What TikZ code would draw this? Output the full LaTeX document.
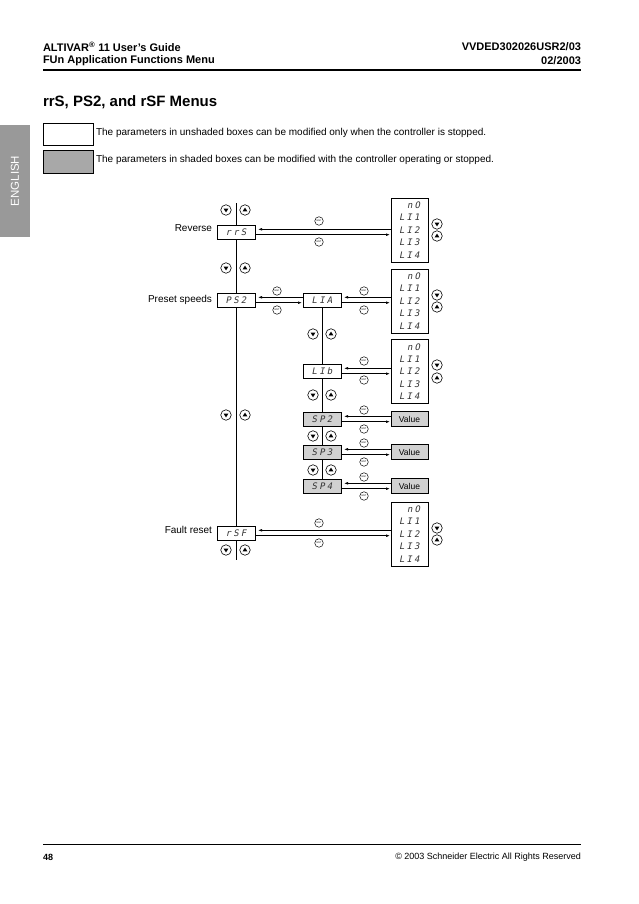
\documentclass[tikz,border=0pt]{standalone}
\usepackage{fontspec}
\setmainfont{Liberation Sans}
\newfontfamily\segfont[LetterSpace=24,FakeSlant=0.2]{DejaVu Sans Mono}
\usetikzlibrary{arrows.meta,calc}
\definecolor{shade}{gray}{0.82}
\definecolor{legshade}{gray}{0.66}
\definecolor{tabgray}{gray}{0.6}
\newcommand\rowarrows[2]{%
  \coordinate (#1-t) at ([yshift=2.7pt]#1.east);
  \coordinate (#1-b) at ([yshift=-2.7pt]#1.east);
  \draw[arr, shorten >=3pt] (#2.west |- #1-t) -- (#1-t);
  \draw[arr, shorten >=1pt] (#1-b) -- (#2.west |- #1-b);
}
\begin{document}
\begin{tikzpicture}[x=1pt,y=-1pt,
  every node/.style={inner sep=0pt, outer sep=0pt},
  pbox/.style={draw, line width=0.6pt, fill=white, minimum width=38pt, minimum height=14pt, font=\segfont\fontsize{9}{10}\selectfont, text=black!80},
  sbox/.style={pbox, fill=shade},
  lbox/.style={draw, line width=0.6pt, minimum width=37pt, minimum height=64pt, align=left, font=\segfont\fontsize{9}{12.4}\selectfont, text=black!80},
  vbox/.style={draw, line width=0.6pt, fill=shade, minimum width=37pt, minimum height=15pt, font=\fontsize{8.5}{9}\selectfont},
  nav/.style={circle, draw, line width=0.6pt, fill=white, minimum size=10.5pt},
  dnbtn/.style={nav, path picture={\fill[black] ([xshift=-2.4pt,yshift=1.4pt]path picture bounding box.center) -- ++(4.8pt,0pt) -- ++(-2.4pt,-3.8pt) -- cycle;}},
  upbtn/.style={nav, path picture={\fill[black] ([xshift=-2.4pt,yshift=-1.4pt]path picture bounding box.center) -- ++(4.8pt,0pt) -- ++(-2.4pt,3.8pt) -- cycle;}},
  keybtn/.style={circle, draw, line width=0.5pt, fill=white, minimum size=8.5pt, font=\fontsize{2.4}{2.5}\selectfont},
  arr/.style={line width=0.6pt, -{Latex[length=4pt,width=2.6pt]}},
  lbl/.style={anchor=east, font=\fontsize{10}{12}\selectfont},
  hdr/.style={font=\bfseries\fontsize{11}{13}\selectfont},
  legtext/.style={anchor=west, font=\fontsize{10}{12}\selectfont},
]
\useasboundingbox (0,0) rectangle (638,904);
\fill[white] (0,0) rectangle (638,904);

% header
\node[hdr, anchor=west] (h1) at (43,47) {ALTIVAR\textsuperscript{\textregistered} 11 User's Guide};
\node[hdr, anchor=west] (h2) at (43,61) {FUn Application Functions Menu};
\node[hdr, anchor=east] (h3) at (581,47) {VVDED302026USR2/03};
\node[hdr, anchor=east] (h4) at (581,61) {02/2003};
\draw[line width=1.2pt] (43,70) -- (581,70);
\node[anchor=west, font=\bfseries\fontsize{15}{17}\selectfont] (title) at (43,102) {rrS, PS2, and rSF Menus};

% side tab
\fill[tabgray] (0,125) rectangle (30,237);
\node[rotate=90, text=white, font=\fontsize{11.5}{12}\selectfont] (eng) at (15,181) {ENGLISH};

% legend
\node[draw, line width=0.6pt, fill=white, minimum width=50pt, minimum height=22pt] (leg1) at (68,134) {};
\node[draw, line width=0.6pt, fill=legshade, minimum width=50pt, minimum height=23pt] (leg2) at (68,161.5) {};
\node[legtext] (lt1) at (96,133) {The parameters in unshaded boxes can be modified only when the controller is stopped.};
\node[legtext] (lt2) at (96,160) {The parameters in shaded boxes can be modified with the controller operating or stopped.};

% parameter boxes
\node[pbox] (rrs) at (236,232) {rrS};
\node[pbox] (ps2) at (236,300) {PS2};
\node[pbox] (rsf) at (236,533) {rSF};
\node[pbox] (lia) at (322,300) {LIA};
\node[pbox] (lib) at (322,371) {LIb};
\node[sbox] (sp2) at (322,419) {SP2};
\node[sbox] (sp3) at (322,452) {SP3};
\node[sbox] (sp4) at (322,486) {SP4};

% labels
\node[lbl] (lrev) at (212,228) {Reverse};
\node[lbl] (lpre) at (212,300) {Preset speeds};
\node[lbl] (lfau) at (212,530) {Fault reset};

% lists
\node[lbox] (lst1) at (409.5,230) {\hspace*{8pt}nO\\LI1\\LI2\\LI3\\LI4};
\node[lbox] (lst2) at (409.5,301) {\hspace*{8pt}nO\\LI1\\LI2\\LI3\\LI4};
\node[lbox] (lst3) at (409.5,371.5) {\hspace*{8pt}nO\\LI1\\LI2\\LI3\\LI4};
\node[lbox] (lst4) at (409.5,534) {\hspace*{8pt}nO\\LI1\\LI2\\LI3\\LI4};
\node[vbox] (val2) at (409.5,419) {Value};
\node[vbox] (val3) at (409.5,452) {Value};
\node[vbox] (val4) at (409.5,486) {Value};

% vertical lines
\coordinate (mtop) at (236,203);
\coordinate (mbot) at (236,560);
\draw[line width=0.6pt] (mtop) -- (rrs.north);
\draw[line width=0.6pt] (rrs.south) -- (ps2.north);
\draw[line width=0.6pt] (ps2.south) -- (rsf.north);
\draw[line width=0.6pt] (rsf.south) -- (mbot);
\draw[line width=0.6pt] (lia.south) -- (lib.north);
\draw[line width=0.6pt] (lib.south) -- (sp2.north);
\draw[line width=0.6pt] (sp2.south) -- (sp3.north);
\draw[line width=0.6pt] (sp3.south) -- (sp4.north);

% horizontal arrows
\rowarrows{rrs}{lst1}
\rowarrows{ps2}{lia}
\rowarrows{lia}{lst2}
\rowarrows{lib}{lst3}
\rowarrows{sp2}{val2}
\rowarrows{sp3}{val3}
\rowarrows{sp4}{val4}
\rowarrows{rsf}{lst4}

% ESC / ENT keys
\foreach \n/\x/\ya/\yb in {k1/319/221/242, k2/277/291/310, k3/364/291/310, k4/364/361/380, k5/364/410/429, k6/364/443/462, k7/364/477/496, k8/319/523/543}{
  \node[keybtn] (\n e) at (\x,\ya) {ESC};
  \node[keybtn] (\n n) at (\x,\yb) {ENT};
}

% navigation buttons, main column and sub column
\foreach \n/\xd/\xu/\y in {m1/226/245/210, m2/226/245/268, m3/226/245/415, m4/226/245/550, s1/313/331/334, s2/313/331/395, s3/313/331/436, s4/313/331/470}{
  \node[dnbtn] (\n d) at (\xd,\y) {};
  \node[upbtn] (\n u) at (\xu,\y) {};
}
% navigation buttons right of lists
\foreach \n/\yd/\yu in {r1/224/236, r2/295/307, r3/365/378, r4/528/540}{
  \node[dnbtn] (\n d) at (437,\yd) {};
  \node[upbtn] (\n u) at (437,\yu) {};
}

% footer
\draw[line width=0.8pt] (43,844) -- (581,844);
\node[anchor=west, font=\bfseries\fontsize{9}{11}\selectfont] (pg) at (43,857) {48};
\node[anchor=east, font=\fontsize{9}{11}\selectfont] (copy) at (581,857) {\textcopyright\ 2003 Schneider Electric All Rights Reserved};
\end{tikzpicture}
\end{document}
